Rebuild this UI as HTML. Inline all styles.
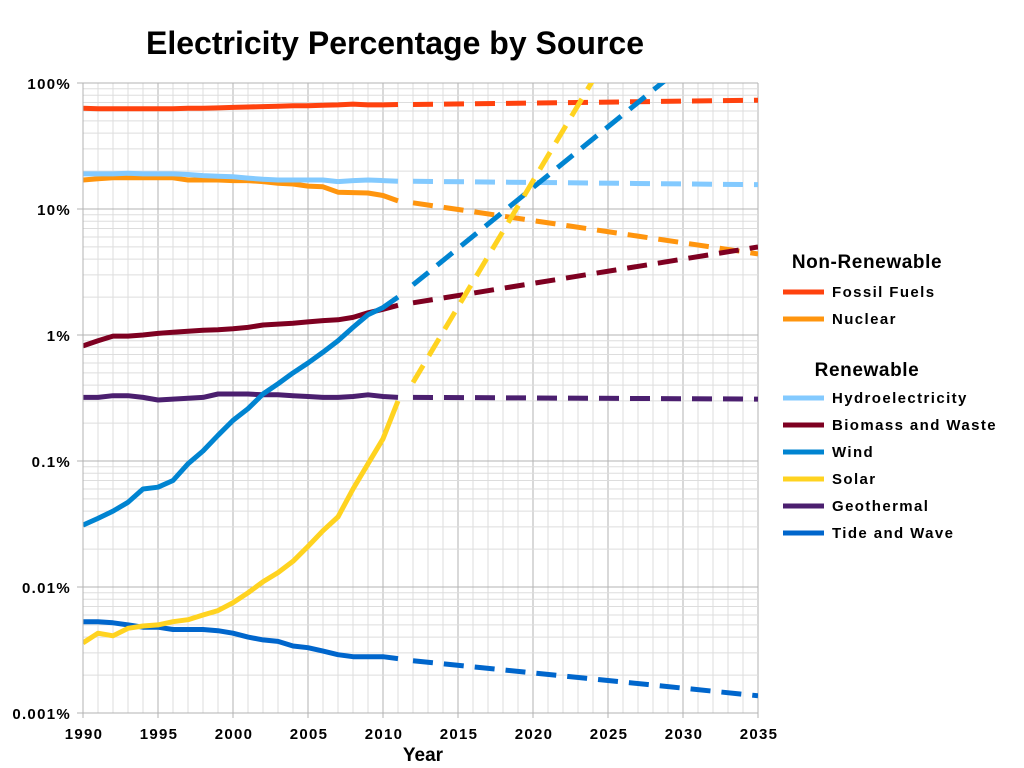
<!DOCTYPE html>
<html><head><meta charset="utf-8"><style>
body{margin:0;background:#fff;}
svg{display:block;font-family:"Liberation Sans",Arial,sans-serif;}
</style></head><body>
<svg id="chart" width="1024" height="768" viewBox="0 0 1024 768">
<text x="395" y="54" font-size="32" font-weight="bold" text-anchor="middle">Electricity Percentage by Source</text>
<g id="grid"></g><g id="series"></g><g id="axes"></g>
<text x="423" y="761" font-size="19" font-weight="bold" text-anchor="middle">Year</text>
<g id="legend"></g>
</svg>
<script>
const years = [1990,1991,1992,1993,1994,1995,1996,1997,1998,1999,2000,2001,2002,2003,2004,2005,2006,2007,2008,2009,2010,2011];
const fossil = [63,62.5,62.5,62.5,62.5,62.5,62.5,63,63,63.5,64,64.5,65,65.5,66,66,66.5,67,68,67,67,67.5];
const nuclear = [17,17.4,17.7,17.7,17.7,17.7,17.7,17,17,17,16.8,16.8,16.5,16,15.8,15.2,15,13.6,13.5,13.4,12.8,11.6];
const hydro = [19,19,19,19.2,19,19,19,18.8,18.4,18.2,18,17.6,17.2,17,17,17,17,16.5,16.8,17,16.8,16.6];
const biomass = [0.82,0.9,0.98,0.98,1.0,1.03,1.05,1.07,1.09,1.1,1.12,1.15,1.2,1.22,1.24,1.27,1.3,1.32,1.38,1.5,1.6,1.72];
const wind = [0.031,0.035,0.04,0.047,0.06,0.062,0.07,0.095,0.12,0.16,0.21,0.26,0.34,0.41,0.5,0.6,0.73,0.9,1.15,1.45,1.65,2.0];
const solar = [0.0036,0.0043,0.0041,0.0047,0.0049,0.005,0.0053,0.0055,0.006,0.0065,0.0075,0.009,0.011,0.013,0.016,0.021,0.028,0.036,0.06,0.095,0.15,0.3];
const geothermal = [0.32,0.32,0.33,0.33,0.32,0.305,0.31,0.315,0.32,0.34,0.34,0.34,0.335,0.335,0.33,0.325,0.32,0.32,0.325,0.335,0.325,0.32];
const tide = [0.0053,0.0053,0.0052,0.005,0.0048,0.0048,0.0046,0.0046,0.0046,0.0045,0.0043,0.004,0.0038,0.0037,0.0034,0.0033,0.0031,0.0029,0.0028,0.0028,0.0028,0.0027];
const projYears = [2012, 2035];
const fossilProj = [67.5, 73];
const nuclearProj = [11.2, 4.4];
const hydroProj = [16.6, 15.6];
const biomassProj = [1.8, 5.0];
const windProj = [2.5, 415];
const solarProj = [0.42, 16700];
const geothermalProj = [0.32, 0.31];
const tideProj = [0.0026, 0.00137];
const yTickLabels = ["100%","10%","1%","0.1%","0.01%","0.001%"];
const yTickValues = [100,10,1,0.1,0.01,0.001];
const xTicks = [1990,1995,2000,2005,2010,2015,2020,2025,2030,2035];

const X0=83, X1=758, Y0=83, DEC=126;
const xs = y => X0 + (y-1990)*(X1-X0)/45;
const ys = v => Y0 + (2-Math.log10(v))*DEC;
const NS="http://www.w3.org/2000/svg";
function mk(tag, attrs, parent){const e=document.createElementNS(NS,tag);for(const k in attrs)e.setAttribute(k,attrs[k]);parent.appendChild(e);return e;}
const gridG=document.getElementById('grid'), axesG=document.getElementById('axes'), serG=document.getElementById('series'), legG=document.getElementById('legend');

for(let y=1990;y<=2035;y++){
  const l=mk('line',{x1:xs(y),x2:xs(y),y1:Y0,y2:ys(0.001),stroke:y%5==0?'#b3b3b3':'#dddddd','stroke-width':1},gridG);
  
  
}
for(let d=-3;d<2;d++){
  for(let m=1;m<=9;m++){
    const v=m*Math.pow(10,d);
    const l=mk('line',{x1:X0-(m==1?6:0),x2:X1,y1:ys(v),y2:ys(v),stroke:m==1?'#b3b3b3':'#dddddd','stroke-width':1},gridG);
    
    
  }
}
const topLine=mk('line',{x1:X0-6,x2:X1,y1:Y0,y2:Y0,stroke:'#b3b3b3'},gridG);


mk('line',{x1:X0,x2:X0,y1:Y0,y2:ys(0.001)+5,stroke:'#b3b3b3'},axesG);
mk('line',{x1:X0-6,x2:X1,y1:ys(0.001),y2:ys(0.001),stroke:'#b3b3b3'},axesG);
yTickLabels.forEach((t,i)=>{
  const e=mk('text',{x:71,y:ys(yTickValues[i])+6,'font-size':15,'font-weight':'bold','text-anchor':'end','letter-spacing':'1.3'},axesG);
  e.textContent=t;
  
  
});
xTicks.forEach(t=>{
  mk('line',{x1:xs(t),x2:xs(t),y1:ys(0.001),y2:ys(0.001)+5,stroke:'#b3b3b3'},axesG);
  const e=mk('text',{x:xs(t)+1,y:739,'font-size':15,'font-weight':'bold','text-anchor':'middle','letter-spacing':'1.3'},axesG);
  e.textContent=t;
  
  
});

const defs=mk('defs',{},document.getElementById('chart'));
const cp=mk('clipPath',{id:'plotclip'},defs);
mk('rect',{x:X0,y:Y0,width:X1-X0,height:ys(0.001)-Y0},cp);
serG.setAttribute('clip-path','url(#plotclip)');

const S=[
 ['fossil-fuels',fossil,fossilProj,'#ff420e'],
 ['nuclear',nuclear,nuclearProj,'#ff950e'],
 ['hydroelectricity',hydro,hydroProj,'#83caff'],
 ['biomass-and-waste',biomass,biomassProj,'#7e0021'],
 ['geothermal',geothermal,geothermalProj,'#4b1f6f'],
 ['tide-and-wave',tide,tideProj,'#0066cc'],
 ['wind',wind,windProj,'#0084d1'],
 ['solar',solar,solarProj,'#ffd320']
];
S.forEach(([n,vals,proj,c])=>{
  const pts=vals.map((v,i)=>xs(years[i]).toFixed(1)+','+ys(v).toFixed(1)).join(' ');
  const p=mk('polyline',{points:pts,fill:'none',stroke:c,'stroke-width':5,'stroke-linejoin':'round'},serG);
  
  
  const q=mk('line',{x1:xs(projYears[0]),y1:ys(proj[0]),x2:xs(projYears[1]),y2:ys(proj[1]),stroke:c,'stroke-width':5,'stroke-dasharray':'20,11'},serG);
  
  
});

function header(t,y){const e=mk('text',{x:867,y:y,'font-size':19,'font-weight':'bold','text-anchor':'middle','letter-spacing':'0.6'},legG);e.textContent=t;}
header('Non-Renewable',268);
header('Renewable',376);
const L=[['Fossil Fuels','#ff420e',292],['Nuclear','#ff950e',319],['Hydroelectricity','#83caff',398],['Biomass and Waste','#7e0021',425],['Wind','#0084d1',452],['Solar','#ffd320',479],['Geothermal','#4b1f6f',506],['Tide and Wave','#0066cc',533]];
L.forEach(([t,c,y])=>{
  const g=mk('g',{},legG);
  
  
  mk('line',{x1:783,x2:824,y1:y,y2:y,stroke:c,'stroke-width':5},g);
  const e=mk('text',{x:832,y:y+5,'font-size':15,'font-weight':'bold','letter-spacing':'1.4'},g);
  e.textContent=t;
});
</script>
</body></html>
